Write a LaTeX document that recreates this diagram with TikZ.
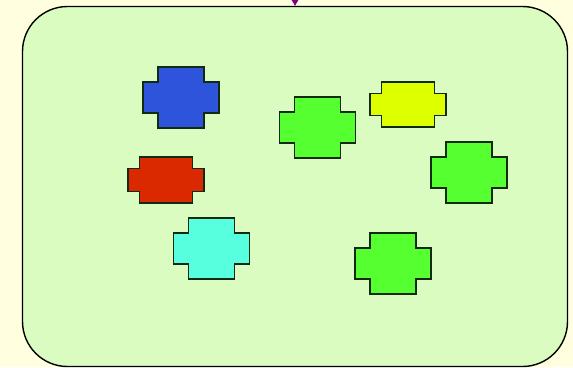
\documentclass[tikz,border=0pt]{standalone}
\usepackage{tikz}
\usetikzlibrary{arrows.meta,calc}

\definecolor{paper}{RGB}{255,255,224}
\definecolor{field}{RGB}{218,252,192}
\definecolor{edge}{RGB}{18,42,18}
\definecolor{tintblue}{RGB}{45,84,218}
\definecolor{tintgreen}{RGB}{86,255,48}
\definecolor{tintyellow}{RGB}{222,255,0}
\definecolor{tintred}{RGB}{218,40,0}
\definecolor{tintcyan}{RGB}{88,255,222}
\definecolor{flowpurple}{RGB}{128,0,128}

% #1 name, #2 centre, #3 fill, #4 half width, #5 half height, #6 notch
\newcommand{\blob}[6]{%
  \coordinate (#1) at (#2);
  \draw[blobline, fill=#3] ($(#1)+({-#4+#6},-#5)$)
    -- ++({2*#4-2*#6},0) -- ++(0,#6) -- ++(#6,0)
    -- ++(0,{2*#5-2*#6}) -- ++(-#6,0) -- ++(0,#6)
    -- ++({-2*#4+2*#6},0) -- ++(0,-#6) -- ++(-#6,0)
    -- ++(0,{-2*#5+2*#6}) -- ++(#6,0) -- cycle;}

\begin{document}
\begin{tikzpicture}[
  x=1pt, y=-1pt,
  panel/.style={draw, fill=field, line width=1.4pt, rounded corners=45pt,
    minimum width=545pt, minimum height=360pt, inner sep=0pt},
  blobline/.style={draw=edge, line width=1.6pt, line join=miter},
  flow/.style={-{Triangle[length=7pt,width=8pt]}, flowpurple, line width=1pt}
]
\fill[paper] (0,0) rectangle (573,367);
\useasboundingbox (0,0) rectangle (573,367);
\node[panel] (panel) at (295,186.5) {};
\coordinate (src) at (295,-12);
\draw[flow] (src) -- (panel.north);
\blob{blue}{181,97.5}{tintblue}{38}{30.5}{15}
\blob{greenA}{317.5,127.5}{tintgreen}{38}{30.5}{15}
\blob{yellow}{408,104.5}{tintyellow}{38}{22.5}{11.5}
\blob{red}{166,180}{tintred}{38}{23}{11.5}
\blob{greenB}{469,172.5}{tintgreen}{38}{30.5}{15}
\blob{cyan}{211.5,248.5}{tintcyan}{38}{30.5}{15}
\blob{greenC}{393,263.5}{tintgreen}{38}{30.5}{15}
\end{tikzpicture}
\end{document}
